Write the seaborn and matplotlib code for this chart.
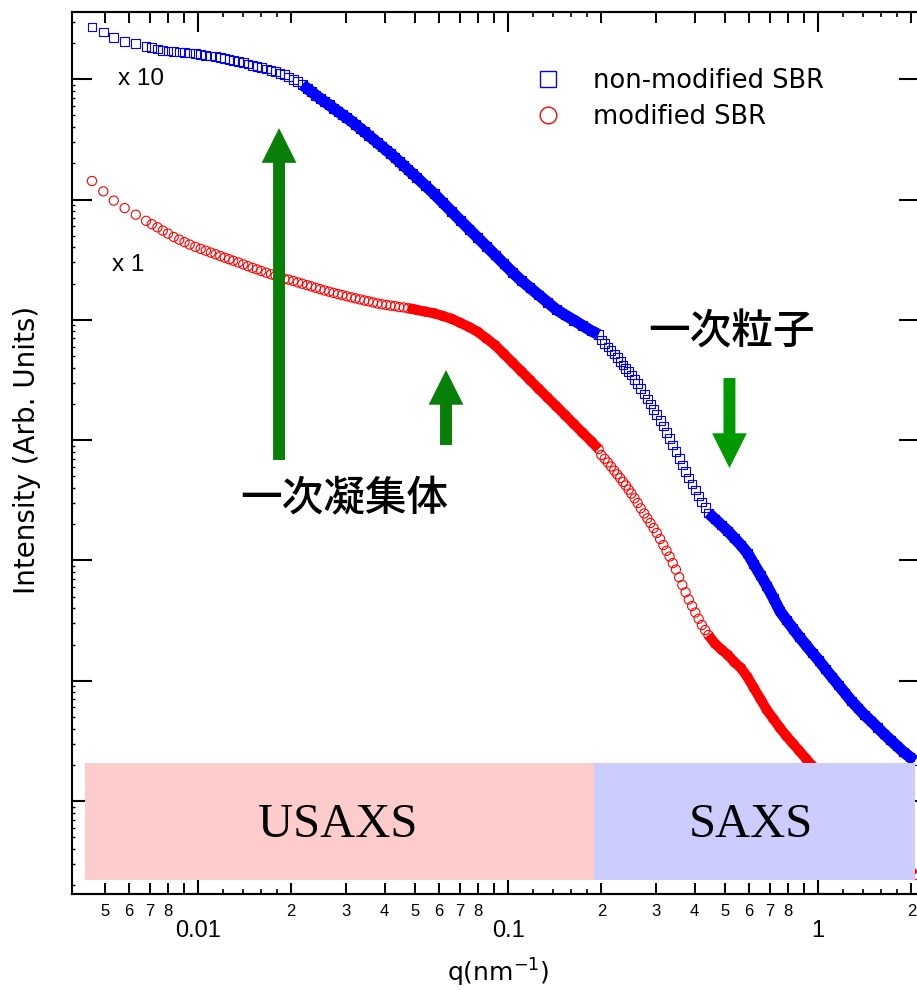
import numpy as np
import pandas as pd
import seaborn as sns
import matplotlib
matplotlib.use("Agg")
import matplotlib.pyplot as plt
from matplotlib.patches import Rectangle
from matplotlib.lines import Line2D
from matplotlib.ticker import FixedLocator, FixedFormatter, NullFormatter, LogLocator, NullLocator

# ---------------- data ----------------
q_usaxs = [0.00455, 0.00495, 0.00535, 0.0058, 0.0063, 0.0068, 0.0071, 0.0074, 0.0077, 0.008,
           0.00835, 0.0087, 0.00905, 0.0094, 0.0098, 0.0102, 0.0106, 0.011, 0.0114, 0.0118,
           0.0122, 0.0126, 0.013, 0.0135, 0.014, 0.0145, 0.015, 0.0155, 0.016, 0.0166,
           0.0172, 0.0178, 0.0184, 0.019, 0.0196, 0.0203, 0.021, 0.0217, 0.0225, 0.0232,
           0.024, 0.0248, 0.0256, 0.0265, 0.0274, 0.0283, 0.0292, 0.0302, 0.0312, 0.0322,
           0.0333, 0.0344, 0.0355, 0.0367, 0.0379, 0.0392, 0.0405, 0.0418, 0.0432, 0.0446,
           0.0461, 0.0476, 0.0492, 0.0508, 0.0542, 0.0578, 0.0617, 0.0658, 0.0702, 0.0749,
           0.0799, 0.0852, 0.0909, 0.097, 0.1035, 0.1104, 0.1178, 0.1257, 0.1341, 0.1431,
           0.1527, 0.163, 0.174, 0.186, 0.196]
q_saxs = [0.2, 0.205, 0.21, 0.215, 0.22, 0.225, 0.23, 0.235, 0.24, 0.245,
          0.25, 0.256, 0.262, 0.268, 0.275, 0.2815, 0.288, 0.295, 0.302, 0.3095,
          0.317, 0.3245, 0.332, 0.34, 0.348, 0.3565, 0.365, 0.374, 0.383, 0.3925,
          0.402, 0.412, 0.422, 0.4325, 0.443, 0.465, 0.488, 0.512, 0.537, 0.564,
          0.592, 0.621, 0.652, 0.684, 0.718, 0.754, 0.791, 0.83, 0.871, 0.914,
          0.96, 1.007, 1.057, 1.109, 1.164, 1.222, 1.282, 1.346, 1.412, 1.482,
          1.556, 1.633, 1.713, 1.798, 1.887, 1.98, 2.05]

# log10 of intensity (arb. units); the non-modified curve is already multiplied by 10
log_nonmod_usaxs = [6.434, 6.392, 6.348, 6.315, 6.294, 6.272, 6.261, 6.251, 6.242, 6.234,
                    6.230, 6.226, 6.224, 6.219, 6.214, 6.207, 6.200, 6.193, 6.186, 6.179,
                    6.170, 6.163, 6.155, 6.146, 6.136, 6.126, 6.117, 6.107, 6.099, 6.085,
                    6.073, 6.062, 6.049, 6.039, 6.018, 5.998, 5.978, 5.955, 5.923, 5.897,
                    5.867, 5.840, 5.813, 5.787, 5.757, 5.733, 5.706, 5.679, 5.653, 5.623,
                    5.593, 5.563, 5.534, 5.503, 5.473, 5.441, 5.411, 5.382, 5.348, 5.316,
                    5.282, 5.248, 5.215, 5.182, 5.115, 5.047, 4.973, 4.900, 4.826, 4.754,
                    4.682, 4.611, 4.539, 4.466, 4.394, 4.326, 4.266, 4.206, 4.146, 4.086,
                    4.040, 3.997, 3.952, 3.907, 3.878]
log_mod_usaxs = [5.154, 5.068, 4.991, 4.929, 4.874, 4.823, 4.795, 4.769, 4.742, 4.717,
                 4.689, 4.667, 4.646, 4.626, 4.607, 4.590, 4.575, 4.559, 4.545, 4.530,
                 4.516, 4.504, 4.491, 4.477, 4.461, 4.446, 4.432, 4.419, 4.406, 4.392,
                 4.378, 4.366, 4.355, 4.340, 4.334, 4.323, 4.311, 4.300, 4.288, 4.278,
                 4.266, 4.255, 4.244, 4.234, 4.224, 4.214, 4.206, 4.196, 4.187, 4.179,
                 4.170, 4.161, 4.154, 4.145, 4.136, 4.129, 4.124, 4.118, 4.114, 4.106,
                 4.103, 4.096, 4.091, 4.082, 4.068, 4.054, 4.032, 4.008, 3.975, 3.940,
                 3.900, 3.845, 3.789, 3.717, 3.644, 3.572, 3.499, 3.426, 3.354, 3.282,
                 3.209, 3.135, 3.062, 2.988, 2.926]
log_nonmod_saxs = [3.832, 3.803, 3.774, 3.745, 3.716, 3.684, 3.653, 3.624, 3.595, 3.568,
                   3.541, 3.505, 3.469, 3.426, 3.383, 3.342, 3.300, 3.256, 3.213, 3.165,
                   3.117, 3.065, 3.013, 2.959, 2.905, 2.849, 2.793, 2.739, 2.685, 2.635,
                   2.585, 2.535, 2.485, 2.440, 2.394, 2.344, 2.294, 2.244, 2.186, 2.128,
                   2.062, 1.970, 1.879, 1.787, 1.687, 1.579, 1.505, 1.434, 1.363, 1.297,
                   1.230, 1.168, 1.097, 1.031, 0.964, 0.898, 0.831, 0.773, 0.715, 0.665,
                   0.611, 0.557, 0.507, 0.457, 0.407, 0.366, 0.333]
log_mod_saxs = [2.876, 2.845, 2.814, 2.781, 2.747, 2.716, 2.685, 2.653, 2.623, 2.589,
                2.556, 2.516, 2.477, 2.433, 2.390, 2.350, 2.311, 2.269, 2.228, 2.178,
                2.128, 2.080, 2.032, 1.978, 1.924, 1.860, 1.796, 1.735, 1.675, 1.621,
                1.567, 1.515, 1.463, 1.421, 1.380, 1.309, 1.259, 1.214, 1.155, 1.106,
                1.031, 0.939, 0.848, 0.756, 0.682, 0.607, 0.540, 0.478, 0.416, 0.353,
                0.291, 0.233, 0.175, 0.116, 0.058, 0.000, -0.054, -0.112, -0.166, -0.224,
                -0.283, -0.341, -0.399, -0.457, -0.515, -0.574, -0.615]

series_labels = ["non-modified SBR", "modified SBR"]
# q where the markers of each run merge into a solid band
band_start_nonmod = {"usaxs": 0.0217, "saxs": 0.443}
band_start_mod = {"usaxs": 0.0476, "saxs": 0.443}

x_minor_values = [0.005, 0.006, 0.007, 0.008, 0.009,
                  0.02, 0.03, 0.04, 0.05, 0.06, 0.07, 0.08, 0.09,
                  0.2, 0.3, 0.4, 0.5, 0.6, 0.7, 0.8, 0.9, 2.0]
x_minor_labels = ["5", "6", "7", "8", "",
                  "2", "3", "4", "5", "6", "7", "8", "",
                  "2", "3", "4", "5", "6", "7", "8", "", "2"]
x_small_ticks = [0.012, 0.014, 0.016, 0.018, 0.12, 0.14, 0.16, 0.18, 1.2, 1.4, 1.6, 1.8]
x_decades = [0.01, 0.1, 1]
x_decade_labels = ["0.01", "0.1", "1"]


def frame(q, logi, run):
    return pd.DataFrame({"q": q, "I": 10 ** np.array(logi), "run": run})


df_nonmod = pd.concat([frame(q_usaxs, log_nonmod_usaxs, "usaxs"),
                       frame(q_saxs, log_nonmod_saxs, "saxs")], ignore_index=True)
df_mod = pd.concat([frame(q_usaxs, log_mod_usaxs, "usaxs"),
                    frame(q_saxs, log_mod_saxs, "saxs")], ignore_index=True)

# ---------------- style ----------------
sns.set_theme(style="ticks")
plt.rcParams["font.family"] = ["Liberation Sans", "DejaVu Sans", "Noto Sans CJK JP"]
plt.rcParams["mathtext.fontset"] = "dejavusans"
for key in ["text.color", "axes.labelcolor", "xtick.color", "ytick.color", "axes.edgecolor"]:
    plt.rcParams[key] = "black"

fig = plt.figure(figsize=(9.17, 9.9), dpi=100)
ax = fig.add_axes([72 / 917, 96 / 990, 847 / 917, 882 / 990])

blue = "#0000ff"
red = "#ff0000"

# dense parts drawn as a solid band (overlapping markers)
for df, starts, col, lw in [(df_nonmod, band_start_nonmod, blue, 8.2),
                            (df_mod, band_start_mod, red, 7.2)]:
    for run, q0 in starts.items():
        sub = df[(df["run"] == run) & (df["q"] >= q0)]
        sns.lineplot(data=sub, x="q", y="I", color=col, lw=lw, ax=ax, sort=False,
                     estimator=None, legend=False, zorder=2, solid_capstyle="butt",
                     solid_joinstyle="round")

sns.scatterplot(data=df_nonmod, x="q", y="I", marker="s", s=40, color="none",
                edgecolor=blue, linewidth=0.8, ax=ax, legend=False, zorder=2.1)
sns.scatterplot(data=df_mod, x="q", y="I", marker="o", s=44, color="none",
                edgecolor=red, linewidth=0.8, ax=ax, legend=False, zorder=2.1)

ax.set_xscale("log")
ax.set_yscale("log")
ax.set_xlim(0.003923, 2.117)
ax.set_ylim(10 ** -0.773, 10 ** 6.559)

# x ticks: labelled 2..9 ticks on main axis, short sub ticks as minor
ax.xaxis.set_major_locator(FixedLocator(x_minor_values))
ax.xaxis.set_major_formatter(FixedFormatter(x_minor_labels))
ax.xaxis.set_minor_locator(FixedLocator(x_small_ticks))
ax.xaxis.set_minor_formatter(NullFormatter())
ax.tick_params(axis="x", which="major", direction="in", length=8, width=1.4,
               labelsize=12, pad=7, top=True, bottom=True, labeltop=False, color="black",
               labelcolor="black")
ax.tick_params(axis="x", which="minor", direction="in", length=3.6, width=1.2,
               top=True, bottom=True, color="black")

# y ticks
ax.yaxis.set_major_locator(LogLocator(base=10, numticks=20))
ax.yaxis.set_minor_locator(LogLocator(base=10, subs=np.arange(2, 10), numticks=20))
ax.yaxis.set_major_formatter(NullFormatter())
ax.yaxis.set_minor_formatter(NullFormatter())
ax.tick_params(axis="y", which="major", direction="in", length=14.4, width=1.5,
               left=True, right=True, color="black")
ax.tick_params(axis="y", which="minor", direction="in", length=1.8, width=1.0,
               left=True, right=True, color="black")

for sp in ax.spines.values():
    sp.set_visible(True)
    sp.set_linewidth(1.5)
    sp.set_color("black")

# decade ticks (long, with big labels)
sec_b = ax.secondary_xaxis("bottom")
sec_b.set_xticks(x_decades)
sec_b.set_xticklabels(x_decade_labels)
sec_b.xaxis.set_minor_locator(NullLocator())
sec_b.tick_params(direction="in", length=14.4, width=1.5, labelsize=17, pad=19,
                  color="black", labelcolor="black")
sec_b.spines["bottom"].set_linewidth(1.5)

sec_t = ax.secondary_xaxis("top")
sec_t.set_xticks(x_decades)
sec_t.set_xticklabels(["", "", ""])
sec_t.xaxis.set_minor_locator(NullLocator())
sec_t.tick_params(direction="in", length=14.4, width=1.5, labelsize=1, color="black")
sec_t.spines["top"].set_linewidth(1.5)

# axis labels
ax.set_xlabel("q(nm$^{-1}$)", fontsize=18, family="DejaVu Sans", color="black")
ax.xaxis.set_label_coords(0.503, -0.0714)
ax.set_ylabel("Intensity (Arb. Units)", fontsize=20, family="DejaVu Sans", color="black")
ax.yaxis.set_label_coords(-0.0366, 0.503)

# region boxes
ax.add_patch(Rectangle((0.00432, 10 ** -0.657), 0.1894 - 0.00432, 10 ** 0.316 - 10 ** -0.657,
                       facecolor="#ffcccc", edgecolor="none", zorder=3))
ax.add_patch(Rectangle((0.1894, 10 ** -0.657), 2.05 - 0.1894, 10 ** 0.316 - 10 ** -0.657,
                       facecolor="#ccccff", edgecolor="none", zorder=3))
ax.text(0.0283, 10 ** -0.2, "USAXS", family="Liberation Serif", fontsize=35,
        ha="center", va="center", zorder=4, color="black")
ax.text(0.608, 10 ** -0.2, "SAXS", family="Liberation Serif", fontsize=35,
        ha="center", va="center", zorder=4, color="black")

# scale factors
ax.text(0.00657, 10 ** 5.998, "x 10", fontsize=17.5, ha="center", va="center", color="black")
ax.text(0.00597, 10 ** 4.456, "x 1", fontsize=17.5, ha="center", va="center", color="black")


# arrows
def arrow(q, l_tail, l_tip, color):
    ax.annotate("", xy=(q, 10 ** l_tip), xytext=(q, 10 ** l_tail),
                arrowprops=dict(arrowstyle="simple,head_length=25,head_width=25,tail_width=8.6",
                                mutation_scale=1, shrinkA=0, shrinkB=0,
                                color=color, lw=0), zorder=4)


arrow(0.01826, 2.835, 5.594, "#087f08")
arrow(0.0631, 2.959, 3.583, "#087f08")
arrow(0.518, 3.516, 2.768, "#009900")

jp = ["Noto Sans CJK JP", "DejaVu Sans"]
ax.text(0.0296, 10 ** 2.51, "一次凝集体", family=jp, fontsize=30, ha="center", va="center",
        color="black", fontweight="medium")
ax.text(0.524, 10 ** 3.899, "一次粒子", family=jp, fontsize=30, ha="center", va="center",
        color="black", fontweight="medium")

# legend
handles = [Line2D([], [], marker="s", ls="none", mfc="none", mec=blue, ms=12, mew=1.0),
           Line2D([], [], marker="o", ls="none", mfc="none", mec=red, ms=12, mew=1.0)]
ax.legend(handles, series_labels, loc="upper left", bbox_to_anchor=(0.547, 0.937),
          frameon=False, handlelength=1.0, handletextpad=1.26, borderpad=0,
          borderaxespad=0, labelspacing=0.4, prop={"family": "DejaVu Sans", "size": 18.5})

fig.savefig("out.png", dpi=100)
